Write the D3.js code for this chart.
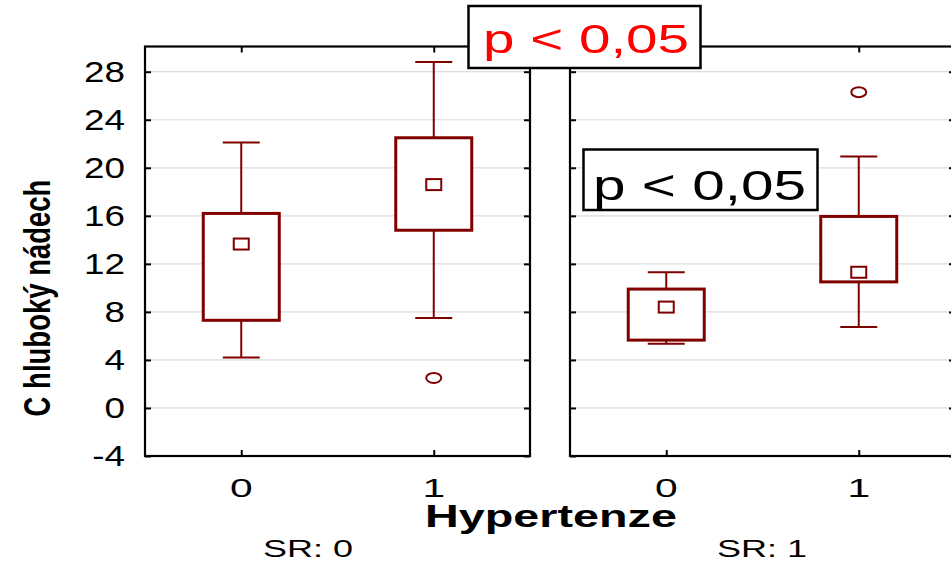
<!DOCTYPE html>
<html>
<head>
<meta charset="utf-8">
<script src="https://cdn.jsdelivr.net/npm/d3@7"></script>
<style>
  html, body { margin: 0; padding: 0; background: #fff; }
  svg { display: block; font-family: "Liberation Sans", Arial, sans-serif; }
</style>
</head>
<body>
<svg id="chart" width="951" height="564"></svg>
<script>
// ---- data ----
const panelLabels = ["SR: 0", "SR: 1"];
const categories = ["0", "1"];          // Hypertenze
const yTicks = [-4, 0, 4, 8, 12, 16, 20, 24, 28];
// per panel [category 0, category 1]
const whiskerLow  = [[4.2, 7.5],   [5.35, 6.75]];
const boxLow      = [[7.3, 14.8],  [5.65, 10.5]];
const boxHigh     = [[16.2, 22.5], [9.9, 15.95]];
const whiskerHigh = [[22.1, 28.8], [11.3, 20.95]];
const means       = [[13.65, 18.6],[8.4, 11.3]];
const outliers    = [[[], [2.5]],  [[], [26.3]]];
const pLabels = ["p < 0,05", "p < 0,05"];
const yTitle = "C hluboký nádech";
const xTitle = "Hypertenze";

// ---- layout ----
const svg = d3.select("#chart");
const dark = "#800000";
const panelX = [145, 570];
const panelW = 385;
const plotTop = 46.5, plotBottom = 456;
const y = d3.scaleLinear().domain([-4, 30.1]).range([plotBottom, plotTop]);

function stretchText(parent, txt, x, yy, opts) {
  const g = parent.append("g")
    .attr("transform", `translate(${x},${yy}) rotate(${opts.rotate || 0}) scale(${opts.sx || 1},${opts.sy || 1})`);
  g.append("text")
    .attr("text-anchor", opts.anchor || "middle")
    .attr("font-size", opts.size)
    .attr("font-weight", opts.weight || "normal")
    .attr("fill", opts.fill || "#000")
    .attr("dominant-baseline", opts.baseline || "alphabetic")
    .text(txt);
  return g;
}

panelLabels.forEach((lab, p) => {
  const x0 = panelX[p];
  const x = d3.scalePoint().domain(categories).range([x0 + panelW * 0.25, x0 + panelW * 0.75]);
  const g = svg.append("g");

  // gridlines
  g.selectAll("line.grid").data(yTicks.filter(t => t > -4)).enter().append("line")
    .attr("x1", x0).attr("x2", x0 + panelW)
    .attr("y1", d => y(d)).attr("y2", d => y(d))
    .attr("stroke", "#dcdcdc").attr("stroke-width", 1.2);

  // axes with inward ticks
  const axL = d3.axisRight(y).tickValues(yTicks).tickSize(6).tickFormat("");
  const axR = d3.axisLeft(y).tickValues(yTicks).tickSize(6).tickFormat("");
  const axB = d3.axisTop(x).tickSize(6).tickFormat("");
  const axT = d3.axisBottom(x).tickSize(6).tickFormat("");
  [[axL, `translate(${x0},0)`], [axR, `translate(${x0 + panelW},0)`],
   [axB, `translate(0,${plotBottom})`], [axT, `translate(0,${plotTop})`]].forEach(([ax, tr]) => {
    const a = g.append("g").attr("transform", tr).call(ax);
    a.select(".domain").remove();
    a.selectAll(".tick line").attr("stroke", "#000").attr("stroke-width", 2);
  });
  g.append("rect").attr("x", x0).attr("y", plotTop).attr("width", panelW).attr("height", plotBottom - plotTop)
    .attr("fill", "none").attr("stroke", "#000").attr("stroke-width", 2.2);

  // boxes
  categories.forEach((c, i) => {
    const cx = x(c);
    const bw = 76, cw = 37;
    g.append("line").attr("x1", cx).attr("x2", cx)
      .attr("y1", y(boxHigh[p][i])).attr("y2", y(whiskerHigh[p][i]))
      .attr("stroke", dark).attr("stroke-width", 2);
    g.append("line").attr("x1", cx).attr("x2", cx)
      .attr("y1", y(boxLow[p][i])).attr("y2", y(whiskerLow[p][i]))
      .attr("stroke", dark).attr("stroke-width", 2);
    [whiskerHigh[p][i], whiskerLow[p][i]].forEach(v => {
      g.append("line").attr("x1", cx - cw / 2).attr("x2", cx + cw / 2)
        .attr("y1", y(v)).attr("y2", y(v))
        .attr("stroke", dark).attr("stroke-width", 2);
    });
    g.append("rect").attr("x", cx - bw / 2).attr("width", bw)
      .attr("y", y(boxHigh[p][i])).attr("height", y(boxLow[p][i]) - y(boxHigh[p][i]))
      .attr("fill", "#fff").attr("stroke", dark).attr("stroke-width", 3);
    g.append("rect").attr("x", cx - 7.5).attr("width", 15)
      .attr("y", y(means[p][i]) - 5.5).attr("height", 11)
      .attr("fill", "#fff").attr("stroke", dark).attr("stroke-width", 2);
    outliers[p][i].forEach(v => {
      g.append("ellipse").attr("cx", cx).attr("cy", y(v)).attr("rx", 7.5).attr("ry", 5)
        .attr("fill", "#fff").attr("stroke", dark).attr("stroke-width", 2);
    });
    // x tick labels
    stretchText(svg, c, cx, 496.5, { size: 25.5, sx: 1.6 });
  });
});

// y tick labels (left only)
yTicks.forEach(t => {
  stretchText(svg, String(t), 125, y(t), { size: 29, sx: 1.27, anchor: "end", baseline: "central" });
});

// titles
stretchText(svg, yTitle, 50, 298, { size: 27.5, weight: "bold", rotate: -90, sy: 1.35 });
stretchText(svg, xTitle, 551, 527, { size: 32, weight: "bold", sx: 1.46 });
stretchText(svg, panelLabels[0], 308, 556.5, { size: 24, sx: 1.5 });
stretchText(svg, panelLabels[1], 762, 556.5, { size: 24, sx: 1.5 });

// p-value boxes
svg.append("rect").attr("x", 468.5).attr("y", 6).attr("width", 232).attr("height", 62)
  .attr("fill", "#fff").attr("stroke", "#000").attr("stroke-width", 2.5);
stretchText(svg, pLabels[0], 586, 53, { size: 41, sx: 1.38, fill: "#ff0000" });
svg.append("rect").attr("x", 583.5).attr("y", 149.5).attr("width", 234).attr("height", 60.5)
  .attr("fill", "#fff").attr("stroke", "#000").attr("stroke-width", 2.5);
stretchText(svg, pLabels[1], 699.5, 200, { size: 43, sx: 1.36, fill: "#000" });
</script>
</body>
</html>
